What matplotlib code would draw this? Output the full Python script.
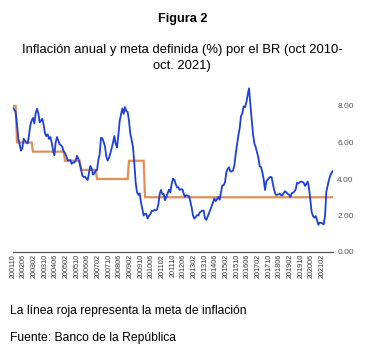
import matplotlib
matplotlib.use("Agg")
import matplotlib.pyplot as plt
import numpy as np

plt.rcParams['font.family'] = ['Liberation Sans', 'DejaVu Sans']

# Annual inflation (%), monthly Oct 2001 - Oct 2021
inflation = [
    # 2001 Oct-Dec
    7.9, 7.8, 7.65,
    # 2002
    7.0, 6.2, 5.9, 5.55, 5.7, 6.2, 6.1, 6.0, 5.95, 6.4, 6.95, 7.2,
    # 2003
    7.35, 7.05, 7.6, 7.85, 7.6, 7.1, 7.2, 7.3, 6.95, 6.5, 6.35, 6.45,
    # 2004
    6.2, 6.3, 6.0, 5.6, 5.3, 6.0, 6.3, 6.1, 5.9, 5.85, 5.76, 5.5,
    # 2005
    5.43, 5.25, 5.03, 5.01, 5.04, 4.83, 4.91, 4.90, 5.02, 5.27, 5.10, 4.85,
    # 2006
    4.56, 4.19, 4.11, 4.12, 4.03, 3.94, 4.32, 4.72, 4.58, 4.24, 4.31, 4.48,
    # 2007
    4.47, 5.05, 5.36, 6.26, 6.23, 6.03, 5.77, 5.22, 5.01, 5.16, 5.41, 5.69,
    # 2008
    6.00, 6.35, 5.93, 5.73, 6.39, 7.18, 7.52, 7.87, 7.57, 7.94, 7.73, 7.67,
    # 2009
    7.18, 6.47, 6.14, 5.73, 4.85, 3.81, 3.28, 3.13, 3.21, 2.72, 2.37, 2.00,
    # 2010
    2.10, 2.09, 1.84, 1.98, 2.07, 2.25, 2.24, 2.31, 2.28, 2.33, 2.59, 3.17,
    # 2011
    3.40, 3.17, 3.19, 2.84, 3.02, 3.23, 3.42, 3.27, 3.73, 4.02, 3.96, 3.73,
    # 2012
    3.54, 3.55, 3.40, 3.43, 3.44, 3.20, 3.03, 3.11, 3.08, 3.06, 2.77, 2.44,
    # 2013
    2.00, 1.83, 1.91, 2.02, 2.00, 2.16, 2.22, 2.27, 2.27, 1.84, 1.76, 1.94,
    # 2014
    2.13, 2.32, 2.51, 2.72, 2.93, 2.79, 2.89, 3.02, 2.86, 3.29, 3.65, 3.66,
    # 2015
    3.82, 4.36, 4.56, 4.64, 4.41, 4.42, 4.46, 4.74, 5.35, 5.89, 6.39, 6.77,
    # 2016
    7.45, 7.59, 7.98, 7.93, 8.20, 8.60, 8.97, 8.10, 7.27, 6.48, 5.96, 5.75,
    # 2017
    5.47, 5.18, 4.69, 4.66, 4.37, 3.99, 3.40, 3.87, 3.97, 4.05, 4.12, 4.09,
    # 2018
    3.68, 3.37, 3.14, 3.13, 3.16, 3.20, 3.12, 3.10, 3.23, 3.33, 3.27, 3.18,
    # 2019
    3.15, 3.01, 3.21, 3.25, 3.31, 3.43, 3.79, 3.75, 3.82, 3.86, 3.84, 3.80,
    # 2020
    3.62, 3.72, 3.86, 3.51, 2.85, 2.19, 1.97, 1.88, 1.97, 1.75, 1.49, 1.61,
    # 2021 Jan-Oct
    1.60, 1.56, 1.51, 1.95, 3.30, 3.63, 3.97, 4.20, 4.35, 4.45,
]

# Inflation target (%) by year, starting Oct 2001
target_years = [2001, 2002, 2003, 2004, 2005, 2006, 2007, 2008, 2009, 2010,
                2011, 2012, 2013, 2014, 2015, 2016, 2017, 2018, 2019, 2020, 2021]
target_values = [8.0, 6.0, 5.5, 5.5, 5.0, 4.5, 4.0, 4.0, 5.0, 3.0,
                 3.0, 3.0, 3.0, 3.0, 3.0, 3.0, 3.0, 3.0, 3.0, 3.0, 3.0]

tick_labels = ["200110", "200206", "200302", "200310", "200406", "200502",
               "200510", "200606", "200702", "200710", "200806", "200902",
               "200910", "201006", "201102", "201110", "201206", "201302",
               "201310", "201406", "201502", "201510", "201606", "201702",
               "201710", "201806", "201902", "201910", "202006", "202102"]
y_ticks = [0, 2, 4, 6, 8]

# monthly calendar
n = len(inflation)
months_year = [2001 + (9 + i) // 12 for i in range(n)]
target_map = dict(zip(target_years, target_values))
target = [target_map[y] for y in months_year]
x = np.arange(n)

W, H = 365, 356
fig = plt.figure(figsize=(W / 100, H / 100), dpi=100)
ax = fig.add_axes([13 / W, (H - 252) / H, 320 / W, 9.2 * 18.25 / H])

ax.plot(x, target, color='#e08f58', lw=1.6, solid_joinstyle='miter', zorder=2)
ax.plot(x, inflation, color='#1d3fdc', lw=1.3, zorder=3)

ax.set_xlim(0, 240)
ax.set_ylim(0, 9.2)
for s in ['top', 'left', 'right']:
    ax.spines[s].set_visible(False)
ax.spines['bottom'].set_color('#555555')
ax.spines['bottom'].set_linewidth(0.9)

ax.set_xticks(np.arange(0, 8 * len(tick_labels), 8))
ax.set_xticklabels(tick_labels, rotation=90, fontsize=5.2, color='#333333')
ax.tick_params(axis='x', length=0, pad=1.5)

ax.yaxis.tick_right()
ax.set_yticks(y_ticks)
ax.set_yticklabels([f"{v:.2f}" for v in y_ticks], fontsize=6, color='#555555')
ax.tick_params(axis='y', length=0, pad=3)

fig.text(183 / W, 1 - 19 / H, "Figura 2", ha='center', va='center',
         fontsize=9.2, fontweight='bold')
fig.text(182 / W, 1 - 50 / H,
         "Inflación anual y meta definida (%) por el BR (oct 2010-",
         ha='center', va='center', fontsize=9.4)
fig.text(182 / W, 1 - 66 / H, "oct. 2021)", ha='center', va='center', fontsize=9.4)
fig.text(10 / W, 1 - 311 / H, "La línea roja representa la meta de inflación",
         ha='left', va='center', fontsize=8.7)
fig.text(10 / W, 1 - 338 / H, "Fuente: Banco de la República",
         ha='left', va='center', fontsize=8.7)

fig.savefig("out.png", dpi=100)
